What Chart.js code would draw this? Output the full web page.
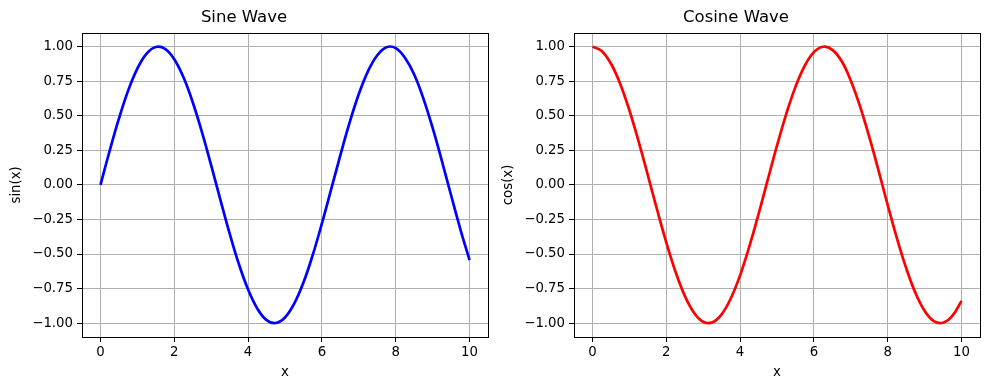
<!DOCTYPE html>
<html>
<head>
<meta charset="utf-8">
<script src="https://cdn.jsdelivr.net/npm/chart.js@4/dist/chart.umd.min.js"></script>
<style>
  html, body { margin: 0; padding: 0; background: #fff; }
  #wrap { position: relative; width: 989px; height: 390px; overflow: hidden; }
  canvas { position: absolute; top: 0; }
  #sinChart { left: 0; }
  #cosChart { left: 492px; }
</style>
</head>
<body>
<div id="wrap">
  <canvas id="sinChart" width="490" height="390"></canvas>
  <canvas id="cosChart" width="497" height="390"></canvas>
</div>
<script>
// ── Data ───────────────────────────────────────────────
const xValues = [0, 0.25, 0.5, 0.75, 1, 1.25, 1.5, 1.75, 2, 2.25, 2.5, 2.75, 3, 3.25, 3.5, 3.75,
  4, 4.25, 4.5, 4.75, 5, 5.25, 5.5, 5.75, 6, 6.25, 6.5, 6.75, 7, 7.25, 7.5, 7.75,
  8, 8.25, 8.5, 8.75, 9, 9.25, 9.5, 9.75, 10];

const sinValues = [0.000, 0.247, 0.479, 0.682, 0.841, 0.949, 0.997, 0.984, 0.909, 0.778, 0.598, 0.382,
  0.141, -0.108, -0.351, -0.572, -0.757, -0.895, -0.978, -0.999, -0.959, -0.859, -0.706, -0.508,
  -0.279, -0.033, 0.215, 0.450, 0.657, 0.823, 0.938, 0.996, 0.989, 0.919, 0.798, 0.624,
  0.412, 0.174, -0.075, -0.319, -0.544];

const cosValues = [1.000, 0.969, 0.878, 0.732, 0.540, 0.315, 0.071, -0.178, -0.416, -0.628, -0.801, -0.924,
  -0.990, -0.994, -0.936, -0.820, -0.654, -0.446, -0.211, 0.038, 0.284, 0.512, 0.709, 0.861,
  0.960, 0.999, 0.977, 0.896, 0.754, 0.568, 0.347, 0.105, -0.146, -0.386, -0.602, -0.781,
  -0.911, -0.985, -0.997, -0.948, -0.839];

const xTicks = [0, 2, 4, 6, 8, 10];
const yTicks = [-1, -0.75, -0.5, -0.25, 0, 0.25, 0.5, 0.75, 1];

// ── Shared styling ─────────────────────────────────────
const FONT = "'DejaVu Sans', sans-serif";
const tickFont = { family: FONT, size: 13.3 };
const GRID = "#b0b0b0";

// draws the black frame round the plot area
const framePlugin = {
  id: "frame",
  afterDraw(chart) {
    const { ctx, chartArea: a } = chart;
    ctx.save();
    ctx.strokeStyle = "#000";
    ctx.lineWidth = 1;
    ctx.strokeRect(Math.round(a.left) + 0.5, Math.round(a.top) + 0.5,
      Math.round(a.right - a.left), Math.round(a.bottom - a.top));
    ctx.restore();
  }
};

function fmtY(v) {
  const s = Math.abs(v).toFixed(2);
  return v < 0 ? "\u2212" + s : s;
}

function makeChart(id, title, yLabel, values, color, padRight) {
  const ctx = document.getElementById(id).getContext("2d");
  return new Chart(ctx, {
    type: "line",
    data: {
      datasets: [{
        data: xValues.map((x, i) => ({ x: x, y: values[i] })),
        borderColor: color,
        borderWidth: 2.7,
        pointRadius: 0,
        tension: 0.4,
        fill: false
      }]
    },
    options: {
      responsive: false,
      animation: false,
      layout: { padding: { left: 0, right: padRight, top: 0, bottom: 0 } },
      plugins: {
        legend: { display: false },
        tooltip: { enabled: false },
        title: {
          display: true,
          text: title,
          color: "#000",
          font: { family: FONT, size: 16.5, weight: "normal" },
          padding: { top: 8, bottom: 5 }
        }
      },
      scales: {
        x: {
          type: "linear",
          min: -0.5,
          max: 10.5,
          afterBuildTicks: (s) => { s.ticks = xTicks.map(v => ({ value: v })); },
          afterFit: (s) => { s.height = 53; },
          ticks: { color: "#000", font: tickFont, padding: 3, maxRotation: 0, callback: (v) => String(v) },
          grid: { color: GRID, tickColor: "#000", tickLength: 5, lineWidth: 1 },
          border: { display: false },
          title: { display: true, text: "x", color: "#000", font: tickFont, padding: { top: 0, bottom: 9 } }
        },
        y: {
          type: "linear",
          min: -1.1,
          max: 1.1,
          afterBuildTicks: (s) => { s.ticks = yTicks.map(v => ({ value: v })); },
          afterFit: (s) => { s.width = 82; },
          ticks: { color: "#000", font: tickFont, padding: 4, callback: (v) => fmtY(v) },
          grid: { color: GRID, tickColor: "#000", tickLength: 5, lineWidth: 1 },
          border: { display: false },
          title: { display: true, text: yLabel, color: "#000", font: tickFont, padding: { top: 9, bottom: 0 } }
        }
      }
    },
    plugins: [framePlugin]
  });
}

makeChart("sinChart", "Sine Wave", "sin(x)", sinValues, "#0000ff", 2);
makeChart("cosChart", "Cosine Wave", "cos(x)", cosValues, "#ff0000", 9);
</script>
</body>
</html>
